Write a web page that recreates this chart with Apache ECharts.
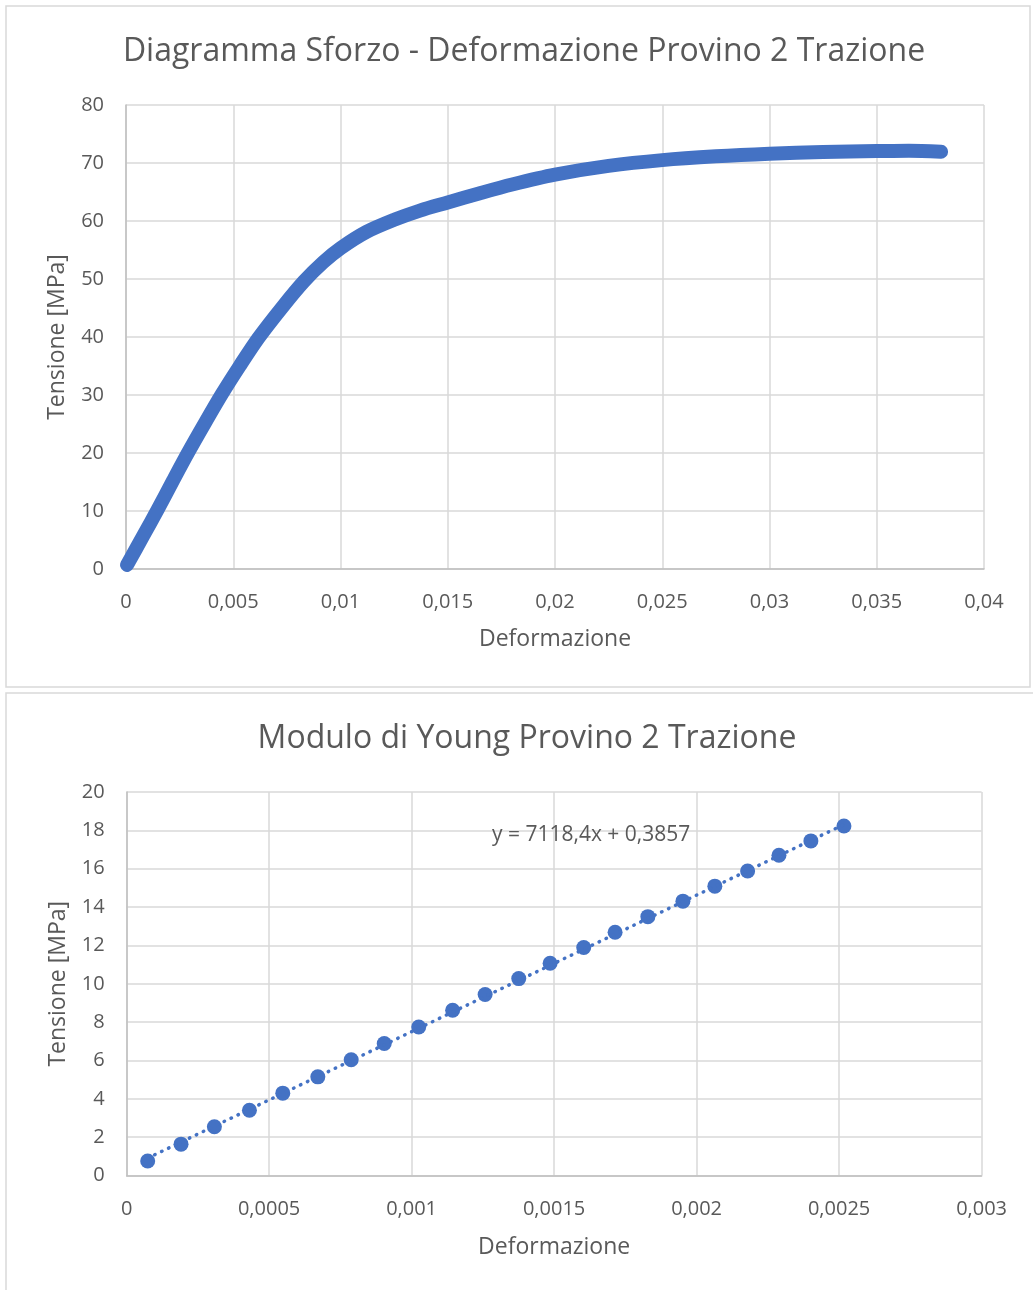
<!DOCTYPE html>
<html>
<head>
<meta charset="utf-8">
<script src="https://cdn.jsdelivr.net/npm/echarts@6/dist/echarts.min.js"></script>
<style>
  html, body { margin: 0; padding: 0; background: #ffffff; }
  #chart { width: 1033px; height: 1290px; }
</style>
</head>
<body>
<div id="chart"></div>
<script>
// ---- Data: stress-strain curve (Provino 2, trazione) ----
const strainCurve = [0.00005, 0.0008, 0.0015, 0.0022, 0.0029, 0.0037, 0.00446, 0.0053, 0.00617, 0.0073, 0.0083, 0.0092, 0.0100, 0.0112, 0.0125, 0.0137, 0.0150, 0.0165, 0.0180, 0.0200, 0.0225, 0.0250, 0.0275, 0.0300, 0.0325, 0.0350, 0.0365, 0.0380];
const stressCurve = [0.7, 5.7, 10.4, 15.3, 20.1, 25.3, 30.1, 35, 39.8, 45.2, 49.6, 52.9, 55.3, 58.1, 60.2, 61.8, 63.2, 64.8, 66.3, 68.0, 69.5, 70.5, 71.15, 71.6, 71.9, 72.05, 72.1, 71.95];

// ---- Data: Young's modulus points ----
const strainYoung = [0.000074, 0.000191, 0.000308, 0.000431, 0.000548, 0.000671, 0.000788, 0.000904, 0.001025, 0.001144, 0.001258, 0.001376, 0.001486, 0.001604, 0.001714, 0.001829, 0.001952, 0.002064, 0.002179, 0.002289, 0.002401, 0.002517];
const stressYoung = [0.76, 1.64, 2.55, 3.41, 4.30, 5.15, 6.04, 6.89, 7.75, 8.62, 9.44, 10.27, 11.07, 11.89, 12.69, 13.50, 14.31, 15.09, 15.88, 16.70, 17.45, 18.23];

// ---- Linear trendline shown in the chart ----
const trendSlope = 7118.4;
const trendIntercept = 0.3857;
const trendLabel = 'y = 7118,4x + 0,3857';

// ---- Texts ----
const title1 = 'Diagramma Sforzo - Deformazione Provino 2 Trazione';
const title2 = 'Modulo di Young Provino 2 Trazione';
const xName = 'Deformazione';
const yName = 'Tensione [MPa]';

const FONT = '"Open Sans", "Noto Sans", sans-serif';
const TXT = '#595959';
const BLUE = '#4472C4';

const fmt = v => String(parseFloat(v.toFixed(6))).replace('.', ',');

const curveData = strainCurve.map((x, i) => [x, stressCurve[i]]);
const youngData = strainYoung.map((x, i) => [x, stressYoung[i]]);
const xFirst = strainYoung[0], xLast = strainYoung[strainYoung.length - 1];
const trendData = [[xFirst, trendSlope * xFirst + trendIntercept], [xLast, trendSlope * xLast + trendIntercept]];

function xAxis(gridIndex, max, interval, labelMargin, nameGap) {
  return {
    type: 'value', gridIndex, min: 0, max, interval,
    name: xName, nameLocation: 'middle', nameGap,
    nameTextStyle: { fontFamily: FONT, fontSize: 23, color: TXT },
    axisLine: { show: true, lineStyle: { color: '#bfbfbf', width: 1.5 } },
    axisTick: { show: false },
    axisLabel: { fontFamily: FONT, fontSize: 20, color: TXT, margin: labelMargin, formatter: fmt },
    splitLine: { show: true, lineStyle: { color: '#d9d9d9', width: 1.5 } }
  };
}
function yAxis(gridIndex, max, interval) {
  return {
    type: 'value', gridIndex, min: 0, max, interval,
    name: yName, nameLocation: 'middle', nameGap: 57, nameRotate: 90,
    nameTextStyle: { fontFamily: FONT, fontSize: 23, color: TXT },
    axisLine: { show: true, lineStyle: { color: '#bfbfbf', width: 1.5 } },
    axisTick: { show: false },
    axisLabel: { fontFamily: FONT, fontSize: 20, color: TXT, margin: 22, formatter: fmt },
    splitLine: { show: true, lineStyle: { color: '#d9d9d9', width: 1.5 } }
  };
}

const chart = echarts.init(document.getElementById('chart'), null, { renderer: 'canvas' });
chart.setOption({
  animation: false,
  backgroundColor: '#ffffff',
  title: [
    { text: title1, left: 519, top: 31, textAlign: 'center',
      textStyle: { fontFamily: FONT, fontSize: 32, fontWeight: 'normal', color: TXT } },
    { text: title2, left: 522, top: 718, textAlign: 'center',
      textStyle: { fontFamily: FONT, fontSize: 32, fontWeight: 'normal', color: TXT } }
  ],
  graphic: [
    { type: 'rect', shape: { x: 6, y: 6, width: 1024, height: 681 },
      style: { fill: 'none', stroke: '#d9d9d9', lineWidth: 1.5 }, silent: true, z: -10 },
    { type: 'rect', shape: { x: 6, y: 693, width: 1040, height: 620 },
      style: { fill: 'none', stroke: '#d9d9d9', lineWidth: 1.5 }, silent: true, z: -10 }
  ],
  grid: [
    { left: 126, top: 105, width: 858, height: 464 },
    { left: 126.6, top: 792, width: 855, height: 383.6 }
  ],
  xAxis: [xAxis(0, 0.04, 0.005, 23, 59), xAxis(1, 0.003, 0.0005, 24, 60)],
  yAxis: [yAxis(0, 80, 10), yAxis(1, 20, 2)],
  series: [
    {
      name: 'Sforzo-Deformazione', type: 'line', xAxisIndex: 0, yAxisIndex: 0,
      data: curveData, smooth: 0.3, showSymbol: false, symbol: 'none',
      lineStyle: { color: BLUE, width: 14, cap: 'round', join: 'round' }
    },
    {
      name: 'Modulo di Young', type: 'scatter', xAxisIndex: 1, yAxisIndex: 1,
      data: youngData, symbol: 'circle', symbolSize: 15,
      itemStyle: { color: BLUE, opacity: 1 }
    },
    {
      name: 'Lineare', type: 'line', xAxisIndex: 1, yAxisIndex: 1,
      data: trendData, showSymbol: false, symbol: 'none', z: 3,
      lineStyle: { color: BLUE, width: 3.5, type: [0.5, 7.2], cap: 'round' },
      markPoint: {
        symbol: 'circle', symbolSize: 0,
        data: [{ coord: [0.00163, 17.75] }],
        label: { show: true, position: 'inside', formatter: trendLabel,
          fontFamily: FONT, fontSize: 21, color: TXT }
      }
    }
  ]
});
</script>
</body>
</html>
